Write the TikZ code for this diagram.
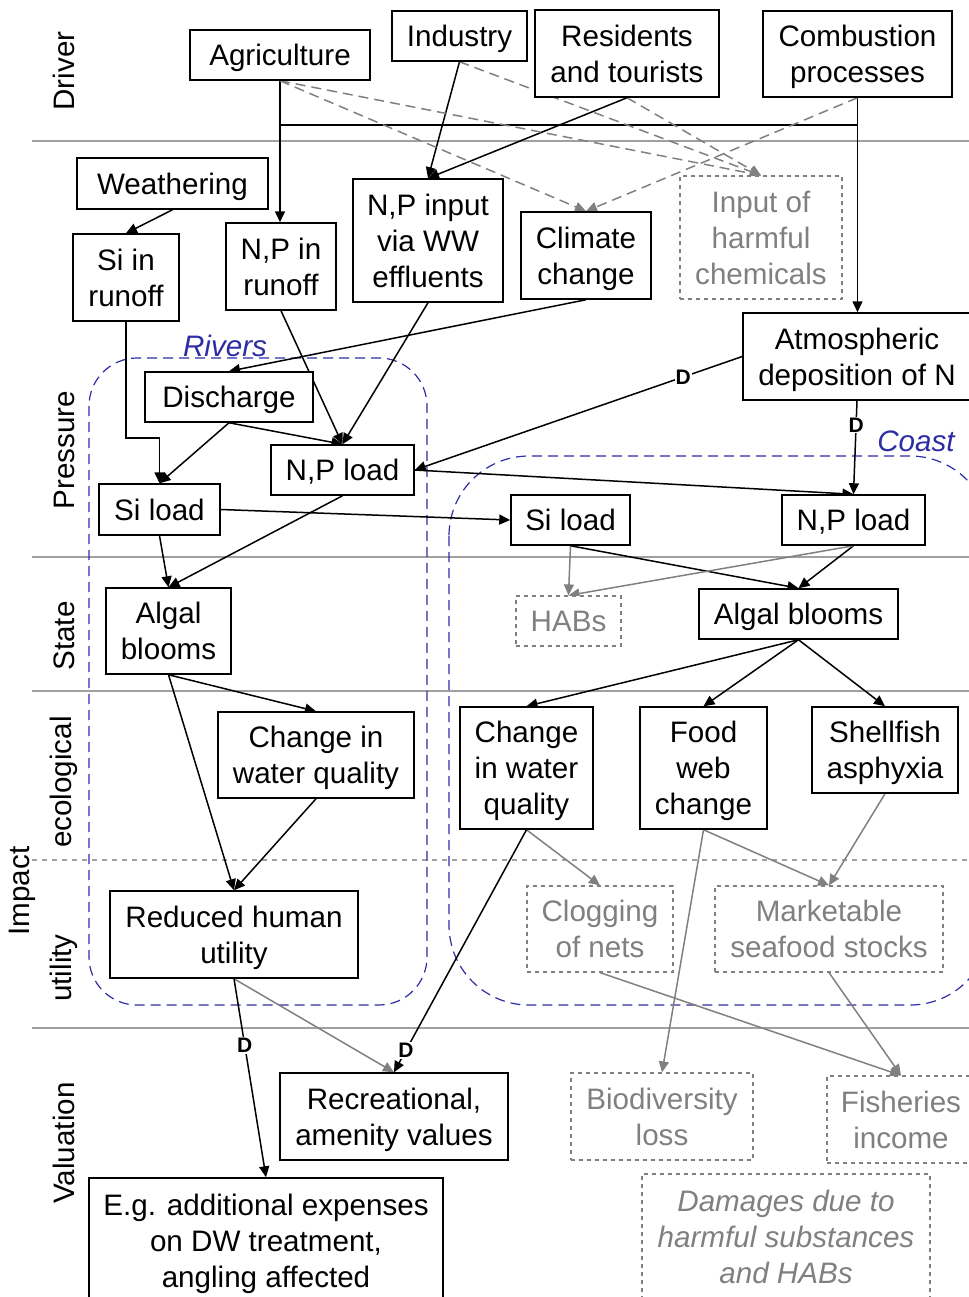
\documentclass[tikz,border=0pt]{standalone}
\usepackage{fontspec}
\setmainfont{Liberation Sans}
\usetikzlibrary{arrows.meta}
\definecolor{rule}{RGB}{160,160,160}
\definecolor{soft}{RGB}{128,128,128}
\definecolor{zone}{RGB}{45,45,165}
\pgfdeclarelayer{back}
\pgfdeclarelayer{links}
\pgfsetlayers{back,links,main}
% struts in the first and last line keep the capitals of a text block centred in its box
\newcommand\topstrut{\rule{0pt}{14.3pt}}
\newcommand\botstrut{\rule[-3.7pt]{0pt}{3.7pt}}
\newcommand\lines[1]{\topstrut#1\botstrut}
\begin{document}
\begin{tikzpicture}[x=0.5pt,y=-0.5pt,
  every node/.style={font=\fontsize{14.8pt}{18pt}\selectfont},
  box/.style={draw=black, line width=0.75pt, fill=white, align=center, inner sep=0pt},
  softbox/.style={box, draw=soft, dash pattern=on 2pt off 2pt, line width=0.6pt, text=soft},
  rowlab/.style={rotate=90, inner sep=0pt},
  link/.style={line width=0.75pt, -{Triangle[length=5.5pt,width=5pt]}},
  softlink/.style={link, draw=soft},
  dashlink/.style={softlink, dash pattern=on 5pt off 3pt},
  dlab/.style={fill=white, inner sep=0.6pt, font=\fontsize{10.5pt}{12pt}\selectfont\bfseries},
  sep/.style={draw=rule, line width=0.6pt},
  zonebox/.style={draw=zone, dash pattern=on 5pt off 3pt, line width=0.6pt},
  zonelab/.style={text=zone, font=\fontsize{14.8pt}{18pt}\selectfont\itshape, inner sep=0pt}]
\useasboundingbox (0,0) rectangle (969,1297);

% ---------- drivers ----------
\node[box, minimum width=90pt, minimum height=25pt] (agri) at (280,55) {\lines{Agriculture}};
\node[box, minimum width=67.5pt, minimum height=25pt] (ind) at (459.5,36) {\lines{Industry}};
\node[box, minimum width=92pt, minimum height=43.5pt] (res) at (627,53.5) {\lines{Residents\\and tourists}};
\node[box, minimum width=94.5pt, minimum height=43pt] (comb) at (857.5,54) {\lines{Combustion\\processes}};

% ---------- pressures ----------
\node[box, minimum width=95.5pt, minimum height=25.5pt] (weath) at (172.5,183.5) {\lines{Weathering}};
\node[box, minimum width=53pt, minimum height=43.5pt] (sirun) at (126,277.5) {\lines{Si in\\runoff}};
\node[box, minimum width=55pt, minimum height=43.5pt] (nprun) at (281,266.5) {\lines{N,P in\\runoff}};
\node[box, minimum width=75pt, minimum height=61.5pt] (npww) at (428,240.5) {\lines{N,P input\\via WW\\effluents}};
\node[box, minimum width=65pt, minimum height=43.5pt] (clim) at (586,255.5) {\lines{Climate\\change}};
\node[softbox, minimum width=81pt, minimum height=61.5pt] (harm) at (761,237.5) {\lines{Input of\\harmful\\chemicals}};
\node[box, minimum width=114pt, minimum height=43.5pt] (atm) at (857,356.5) {\lines{Atmospheric\\deposition of N}};

% ---------- rivers ----------
\node[box, minimum width=84pt, minimum height=25pt] (disch) at (229,397) {\lines{Discharge}};
\node[box, minimum width=71.5pt, minimum height=25pt] (nplr) at (342.5,470) {\lines{N,P load}};
\node[box, minimum width=60.5pt, minimum height=25.5pt] (silr) at (159.5,509.5) {\lines{Si load}};
\node[box, minimum width=62.5pt, minimum height=43pt] (algr) at (168.5,631) {\lines{Algal\\blooms}};
\node[box, minimum width=98pt, minimum height=43pt] (cwqr) at (316,755) {\lines{Change in\\water quality}};
\node[box, minimum width=124pt, minimum height=43.5pt] (rhu) at (234,934.5) {\lines{Reduced human\\utility}};

% ---------- coast ----------
\node[box, minimum width=59.5pt, minimum height=25pt] (silc) at (570.5,520) {\lines{Si load}};
\node[box, minimum width=71.5pt, minimum height=25pt] (nplc) at (853.5,520) {\lines{N,P load}};
\node[softbox, minimum width=52.5pt, minimum height=25pt] (habs) at (568.5,621) {\lines{HABs}};
\node[box, minimum width=99.5pt, minimum height=25pt] (algc) at (798.5,614) {\lines{Algal blooms}};
\node[box, minimum width=66.5pt, minimum height=61pt] (cwqc) at (526.5,768) {\lines{Change\\in water\\quality}};
\node[box, minimum width=63.5pt, minimum height=61pt] (food) at (703.5,768) {\lines{Food\\web\\change}};
\node[box, minimum width=73pt, minimum height=43pt] (shell) at (885,750) {\lines{Shellfish\\asphyxia}};
\node[softbox, minimum width=73pt, minimum height=43pt] (clog) at (600,929) {\lines{Clogging\\of nets}};
\node[softbox, minimum width=114pt, minimum height=43pt] (mark) at (829,929) {\lines{Marketable\\seafood stocks}};

% ---------- valuation ----------
\node[box, minimum width=114pt, minimum height=43.5pt] (recr) at (394,1116.5) {\lines{Recreational,\\amenity values}};
\node[softbox, minimum width=91pt, minimum height=43.5pt] (bio) at (662,1116.5) {\lines{Biodiversity\\loss}};
\node[softbox, minimum width=74pt, minimum height=43.5pt] (fish) at (901,1119.5) {\lines{Fisheries\\income}};
\node[box, minimum width=177pt, minimum height=63pt] (eg) at (266,1241) {\lines{E.g. additional expenses\\on DW treatment,\\angling affected}};
\node[softbox, minimum width=144pt, minimum height=63pt, font=\fontsize{14.8pt}{18pt}\selectfont\itshape] (dam) at (786,1237) {\lines{Damages due to\\harmful substances\\and HABs}};

% ---------- zones, rows ----------
\begin{pgfonlayer}{back}
  \draw[sep] (32,141) -- (969,141);
  \draw[sep] (32,557) -- (969,557);
  \draw[sep] (32,691) -- (969,691);
  \draw[sep, dash pattern=on 2.5pt off 2.5pt] (32,860) -- (969,860);
  \draw[sep] (32,1028) -- (969,1028);
  \draw[zonebox, rounded corners=24pt] (89,358) rectangle (427,1005);
  \draw[zonebox, rounded corners=40pt] (449,456) rectangle (990,1005);
  \node[rowlab] at (64,71) {Driver};
  \node[rowlab] at (64,450) {Pressure};
  \node[rowlab] at (64,636) {State};
  \node[rowlab] at (64,782) {ecological};
  \node[rowlab] at (64,968) {utility};
  \node[rowlab] at (22,891) {Impact};
  \node[rowlab] at (64,1143) {Valuation};
\end{pgfonlayer}
\node[zonelab] at (225,346) {Rivers};
\node[zonelab] at (916,441) {Coast};

% ---------- connectors ----------
\begin{pgfonlayer}{links}
  \coordinate (join) at (0,125);
  % drivers
  \draw[line width=0.75pt] (agri.south |- join) -- (comb.south |- join);
  \draw[link] (agri.south) -- (agri.south |- nprun.north);
  \draw[link] (comb.south) -- (comb.south |- atm.north);
  \draw[link] (ind.south) -- (npww.north);
  \draw[link] (res.south) -- (npww.north);
  \draw[dashlink] (agri.south) -- (clim.north);
  \draw[dashlink] (agri.south) -- (harm.north);
  \draw[dashlink] (ind.south) -- (harm.north);
  \draw[dashlink] (res.south) -- (harm.north);
  \draw[dashlink] (comb.south) -- (clim.north);
  % pressures
  \draw[link] (weath.south) -- (sirun.north);
  \draw[link] (sirun.south) -- (126,438) -- (159.5,438) -- (silr.north);
  \draw[link] (nprun.south) -- (nplr.north);
  \draw[link] (npww.south) -- (nplr.north);
  \draw[link] (clim.south) -- (disch.north);
  \draw[link] (disch.south) -- (silr.north);
  \draw[link] (disch.south) -- (nplr.north);
  \draw[link] (atm.west) -- node[dlab, pos=0.18] {D} (nplr.east);
  \draw[link] (atm.south) -- node[dlab, pos=0.26] {D} (nplc.north);
  \draw[link] (nplr.east) -- (nplc.north);
  \draw[link] (silr.east) -- (silc.west);
  % state
  \draw[link] (silr.south) -- (algr.north);
  \draw[link] (nplr.south) -- (algr.north);
  \draw[link] (silc.south) -- (algc.north);
  \draw[link] (nplc.south) -- (algc.north);
  \draw[softlink] (silc.south) -- (habs.north);
  \draw[softlink] (nplc.south) -- (habs.north);
  % impacts
  \draw[link] (algr.south) -- (cwqr.north);
  \draw[link] (algr.south) -- (rhu.north);
  \draw[link] (cwqr.south) -- (rhu.north);
  \draw[link] (algc.south) -- (cwqc.north);
  \draw[link] (algc.south) -- (food.north);
  \draw[link] (algc.south) -- (shell.north);
  \draw[softlink] (cwqc.south) -- (clog.north);
  \draw[softlink] (food.south) -- (mark.north);
  \draw[softlink] (shell.south) -- (mark.north);
  % valuation
  \draw[softlink] (rhu.south) -- (recr.north);
  \draw[link] (rhu.south) -- node[dlab, pos=0.335] {D} (eg.north);
  \draw[link] (cwqc.south) -- node[dlab, pos=0.91] {D} (recr.north);
  \draw[softlink] (food.south) -- (bio.north);
  \draw[softlink] (clog.south) -- (fish.north);
  \draw[softlink] (mark.south) -- (fish.north);
\end{pgfonlayer}
\end{tikzpicture}
\end{document}
